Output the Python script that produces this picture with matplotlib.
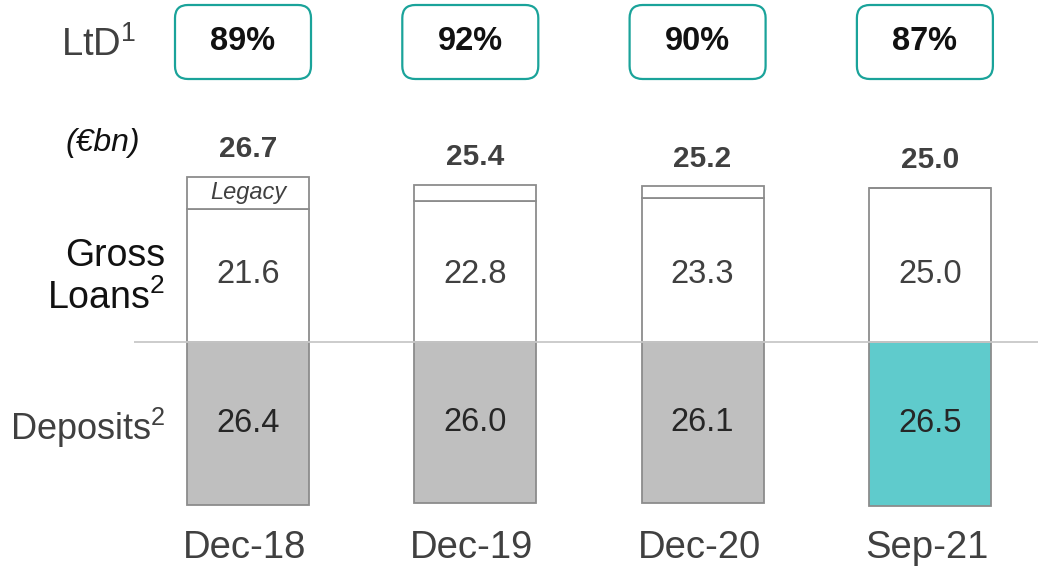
import matplotlib
matplotlib.use("Agg")
import matplotlib.pyplot as plt
from matplotlib.patches import FancyBboxPatch
from matplotlib.transforms import IdentityTransform

plt.rcParams['font.family'] = ['Liberation Sans', 'DejaVu Sans']
plt.rcParams['mathtext.fontset'] = 'custom'
plt.rcParams['mathtext.rm'] = 'Liberation Sans'

# Data (EUR bn)
periods = ['Dec-18', 'Dec-19', 'Dec-20', 'Sep-21']
core_loans = [21.6, 22.8, 23.3, 25.0]
gross_loans = [26.7, 25.4, 25.2, 25.0]
deposits = [26.4, 26.0, 26.1, 26.5]
ltd_ratio = ['89%', '92%', '90%', '87%']

W, H = 1038, 570
fig = plt.figure(figsize=(W / 100, H / 100), dpi=100)
ax = fig.add_axes([0, 0, 1, 1])

# Pixel mapping: bar centres at 248 + 227.3*i, baseline at y=342 px, 6.18 px per bn
px_x, px_y = 227.3, 6.18
ax.set_xlim(-248 / px_x, (W - 248) / px_x)
ax.set_ylim(-(H - 342) / px_y, 342 / px_y)
ax.axis('off')

x = list(range(len(periods)))
bw = 122 / px_x
edge = '#8c8c8c'
dep_colors = ['#bfbfbf', '#bfbfbf', '#bfbfbf', '#5fcbcc']
legacy = [g - c for g, c in zip(gross_loans, core_loans)]

# Bars
ax.bar(x, core_loans, bw, color='white', edgecolor=edge, linewidth=1.3, zorder=2)
ax.bar(x, legacy, bw, bottom=core_loans, color='white', edgecolor=edge,
       linewidth=1.3, zorder=2)
ax.bar(x, [-d for d in deposits], bw, color=dep_colors, edgecolor=edge,
       linewidth=1.3, zorder=2)

# Baseline
ax.plot([(134 - 248) / px_x, (W - 248) / px_x], [0, 0], color='#c8c8c8',
        linewidth=1.3, zorder=3, solid_capstyle='butt')

# Labels on bars
for i in x:
    ax.text(i, gross_loans[i] + 2.2, f'{gross_loans[i]:.1f}', ha='center',
            va='bottom', fontsize=21.5, fontweight='bold', color='#404040')
    ax.text(i, 10.9, f'{core_loans[i]:.1f}', ha='center', va='center',
            fontsize=23.5, color='#404040')
    ax.text(i, -deposits[i] / 2, f'{deposits[i]:.1f}', ha='center', va='center',
            fontsize=23.5, color='#262626')
    ax.text(i - 0.015, -37.5 + 4.2, periods[i], ha='center', va='center',
            fontsize=27.5, color='#404040')

ax.text(0, core_loans[0] + legacy[0] / 2, 'Legacy', ha='center', va='center',
        fontsize=17, style='italic', color='#404040')

# LtD boxes
fig.canvas.draw()
for i in x:
    cx = ax.transData.transform((i, 0))[0] - 5
    cy = H - 42
    box = FancyBboxPatch((cx - 68, cy - 37), 136, 74,
                         boxstyle='round,pad=0,rounding_size=13',
                         transform=IdentityTransform(), facecolor='white',
                         edgecolor='#1aa39a', linewidth=1.6)
    fig.patches.append(box)
    fig.text(cx / W, cy / H, ltd_ratio[i], ha='center', va='center',
             fontsize=23.5, fontweight='bold', color='#111111')

# Row labels
fig.text(136 / W, 1 - 45 / H, r'LtD$^{1}$', ha='right', va='center', fontsize=27.5,
         color='#404040')
fig.text(103 / W, 1 - 143 / H, '(€bn)', ha='center', va='center', fontsize=23,
         style='italic', color='#111111')
fig.text(165 / W, 1 - 256 / H, 'Gross', ha='right', va='center',
         fontsize=27, color='#111111')
fig.text(165 / W, 1 - 298 / H, r'Loans$^{2}$', ha='right', va='center',
         fontsize=27, color='#111111')
fig.text(166 / W, 1 - 428 / H, r'Deposits$^{2}$', ha='right', va='center',
         fontsize=26, color='#404040')

fig.savefig('out.png', dpi=100)
